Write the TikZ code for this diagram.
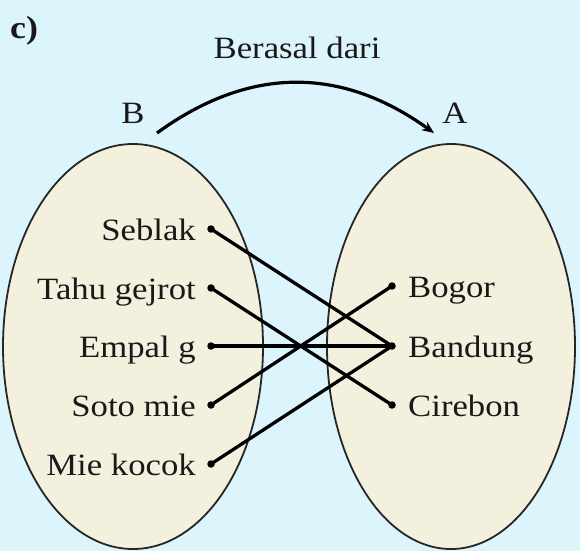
\documentclass[tikz,border=0pt]{standalone}
\usepackage{fontspec}
\setmainfont[FakeStretch=1.12]{Liberation Serif}
\usetikzlibrary{arrows.meta}
\definecolor{bgcol}{RGB}{220,245,252}
\definecolor{setfill}{RGB}{244,240,222}
\begin{document}
\begin{tikzpicture}[x=1pt,y=-1pt,
  setshape/.style={draw=black!85,line width=1.8pt,fill=setfill},
  dotnode/.style={circle,fill=black,inner sep=0pt,minimum size=7.5pt},
  lbl/.style={inner sep=0pt,text=black!90,font=\fontsize{31}{36}\selectfont},
  link/.style={line width=3.3pt,line cap=round}]
\fill[bgcol] (0,0) rectangle (580,551);
\useasboundingbox (0,0) rectangle (580,551);
% sets
\draw[setshape] (133,346.5) ellipse [x radius=130, y radius=202.5];
\draw[setshape] (451,346.5) ellipse [x radius=124, y radius=202.5];
% titles
\node[lbl,anchor=base west,font=\fontsize{32}{36}\selectfont\bfseries] (lab) at (10,39) {c)};
\node[lbl,anchor=base] (rel) at (297,58) {Berasal dari};
\node[lbl,anchor=base] (setB) at (133,123) {B};
\node[lbl,anchor=base] (setA) at (455,123) {A};
\coordinate (arcS) at (157,133);
\coordinate (arcE) at (434,133);
\draw[line width=3.2pt,-{Stealth[length=12pt,width=10pt]}] (arcS) .. controls (249,66) and (341,66) .. (arcE);
% left dots
\node[dotnode] (d1) at (211,229) {};
\node[dotnode] (d2) at (211,288) {};
\node[dotnode] (d3) at (211,346) {};
\node[dotnode] (d4) at (211,405) {};
\node[dotnode] (d5) at (211,464) {};
% right dots
\node[dotnode] (r1) at (392,286) {};
\node[dotnode] (r2) at (392,346) {};
\node[dotnode] (r3) at (392,405) {};
% left labels
\node[lbl,anchor=base east] (t1) at (196,240) {Seblak};
\node[lbl,anchor=base east] (t2) at (196,299) {Tahu gejrot};
\node[lbl,anchor=base east] (t3) at (196,357) {Empal g};
\node[lbl,anchor=base east] (t4) at (196,416) {Soto mie};
\node[lbl,anchor=base east] (t5) at (196,475) {Mie kocok};
% right labels
\node[lbl,anchor=base west] (u1) at (408,297) {Bogor};
\node[lbl,anchor=base west] (u2) at (408,357) {Bandung};
\node[lbl,anchor=base west] (u3) at (408,416) {Cirebon};
% mapping
\draw[link] (d1.center) -- (r2.center);
\draw[link] (d2.center) -- (r3.center);
\draw[link] (d3.center) -- (r2.center);
\draw[link] (d4.center) -- (r1.center);
\draw[link] (d5.center) -- (r2.center);
\end{tikzpicture}
\end{document}
